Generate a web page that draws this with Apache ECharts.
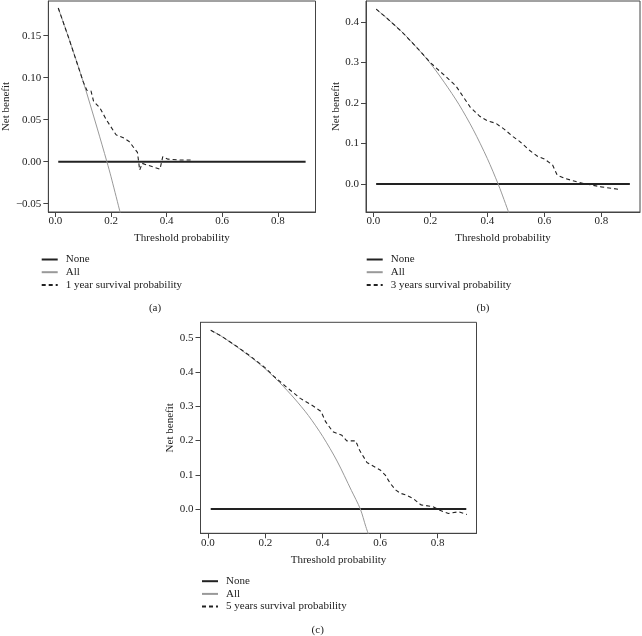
<!DOCTYPE html>
<html>
<head>
<meta charset="utf-8">
<script src="https://cdn.jsdelivr.net/npm/echarts@6/dist/echarts.min.js"></script>
<style>html,body{margin:0;padding:0;background:#fff;}#c{width:642px;height:636px;}</style>
</head>
<body>
<div id="c"></div>
<script>
// ---- data ----
const xTicks = [0, 0.2, 0.4, 0.6, 0.8];
const yTicksA = [-0.05, 0, 0.05, 0.10, 0.15];
const yTicksB = [0, 0.1, 0.2, 0.3, 0.4];
const yTicksC = [0, 0.1, 0.2, 0.3, 0.4, 0.5];

const noneLine = [[0.01, 0], [0.9, 0]];

const allA = [[0.01,0.183],[0.05,0.145],[0.10,0.095],[0.15,0.040],[0.185,0.0],[0.20,-0.018],[0.25,-0.083]];
const modelA = [[0.01,0.183],[0.05,0.145],[0.10,0.095],[0.113,0.085],[0.128,0.084],[0.137,0.072],[0.16,0.064],[0.183,0.050],[0.218,0.032],[0.247,0.028],[0.265,0.024],[0.288,0.014],[0.295,0.011],[0.303,-0.010],[0.312,-0.002],[0.376,-0.009],[0.386,0.006],[0.405,0.003],[0.45,0.002],[0.492,0.002]];

const allB = [[0.01,0.432],[0.05,0.408],[0.10,0.376],[0.15,0.339],[0.20,0.298],[0.25,0.250],[0.30,0.197],[0.35,0.135],[0.40,0.063],[0.438,0.0],[0.45,-0.022],[0.48,-0.080]];
const modelB = [[0.01,0.432],[0.05,0.408],[0.10,0.376],[0.15,0.339],[0.20,0.300],[0.22,0.287],[0.255,0.265],[0.29,0.242],[0.313,0.218],[0.34,0.190],[0.372,0.168],[0.40,0.156],[0.43,0.150],[0.46,0.135],[0.49,0.117],[0.512,0.106],[0.55,0.082],[0.577,0.068],[0.60,0.062],[0.629,0.047],[0.645,0.022],[0.676,0.013],[0.711,0.006],[0.746,0.0],[0.80,-0.007],[0.86,-0.013]];

const allC = [[0.01,0.522],[0.05,0.503],[0.10,0.474],[0.15,0.443],[0.20,0.409],[0.25,0.369],[0.30,0.324],[0.35,0.273],[0.40,0.212],[0.45,0.140],[0.50,0.054],[0.531,0.0],[0.55,-0.051],[0.57,-0.100]];
const modelC = [[0.01,0.522],[0.05,0.503],[0.10,0.475],[0.15,0.445],[0.20,0.412],[0.229,0.388],[0.275,0.355],[0.322,0.323],[0.368,0.300],[0.394,0.285],[0.41,0.255],[0.435,0.226],[0.467,0.215],[0.484,0.199],[0.515,0.199],[0.528,0.172],[0.554,0.136],[0.60,0.114],[0.618,0.099],[0.635,0.075],[0.655,0.055],[0.67,0.046],[0.693,0.040],[0.716,0.030],[0.742,0.012],[0.784,0.007],[0.806,-0.003],[0.838,-0.013],[0.873,-0.008],[0.902,-0.016]];

const modelNames = ['1 year survival probability', '3 years survival probability', '5 years survival probability'];

// ---- style ----
const FONT = 'Liberation Serif';
const TXT = '#222';
const AX = '#444';

function xAxis(gi) {
  return {
    type: 'value', gridIndex: gi, min: -0.0256, max: 0.9356,
    name: 'Threshold probability', nameLocation: 'middle', nameGap: 21,
    nameTextStyle: {fontFamily: FONT, fontSize: 11, color: TXT},
    axisLine: {show: true, onZero: false, lineStyle: {color: AX, width: 1}},
    axisTick: {show: true, length: 5, customValues: xTicks, lineStyle: {color: AX}},
    axisLabel: {customValues: xTicks, margin: 4, fontFamily: FONT, fontSize: 11, color: TXT,
      formatter: v => v.toFixed(1)},
    splitLine: {show: false}
  };
}
function yAxis(gi, min, max, ticks, dec, gap) {
  return {
    type: 'value', gridIndex: gi, min: min, max: max,
    name: 'Net benefit', nameLocation: 'middle', nameGap: gap,
    nameTextStyle: {fontFamily: FONT, fontSize: 11, color: TXT},
    axisLine: {show: true, onZero: false, lineStyle: {color: AX, width: 1}},
    axisTick: {show: true, length: 5, customValues: ticks, lineStyle: {color: AX}},
    axisLabel: {customValues: ticks, margin: 7, fontFamily: FONT, fontSize: 11, color: TXT,
      formatter: v => (v < 0 ? '\u2212' : '') + Math.abs(v).toFixed(dec)},
    splitLine: {show: false}
  };
}
function series(gi, model, all, mname) {
  return [
    {name: 'None', type: 'line', xAxisIndex: gi, yAxisIndex: gi, data: noneLine, symbol: 'none',
      color: '#222', itemStyle: {color: '#222'},
      lineStyle: {color: '#222', width: 2}, silent: true},
    {name: 'All', type: 'line', xAxisIndex: gi, yAxisIndex: gi, data: all, symbol: 'none', smooth: 0.3,
      color: '#999', itemStyle: {color: '#999'},
      lineStyle: {color: '#999', width: 1}, silent: true},
    {name: mname, type: 'line', xAxisIndex: gi, yAxisIndex: gi, data: model, symbol: 'none',
      color: '#222', itemStyle: {color: '#222'},
      lineStyle: {color: '#222', width: 1.1, type: [4, 3]}, silent: true}
  ];
}
function legend(left, top, mname) {
  return {
    orient: 'vertical', left: left, top: top, padding: 0, itemGap: 1.7,
    itemWidth: 16, itemHeight: 12, selectedMode: false,
    itemStyle: {opacity: 0},
    data: ['None', 'All', mname],
    textStyle: {fontFamily: FONT, fontSize: 11, color: TXT, padding: [0, 0, 0, 3]}
  };
}

const gridBase = {show: true, borderColor: AX, borderWidth: 1, containLabel: false};

const option = {
  animation: false,
  grid: [
    Object.assign({left: 41.5, top: 1, width: 274, height: 211}, gridBase),
    Object.assign({left: 366, top: 1, width: 274, height: 211}, gridBase),
    Object.assign({left: 200.5, top: 322.3, width: 276, height: 211}, gridBase)
  ],
  xAxis: [xAxis(0), xAxis(1), xAxis(2)],
  yAxis: [
    yAxis(0, -0.0599, 0.1913, yTicksA, 2, 29.5),
    yAxis(1, -0.0691, 0.4519, yTicksB, 1, 24.5),
    yAxis(2, -0.0709, 0.545, yTicksC, 1, 25.3)
  ],
  legend: [
    legend(40.7, 254, modelNames[0]),
    legend(365.7, 254, modelNames[1]),
    legend(201, 575.7, modelNames[2])
  ],
  series: [].concat(
    series(0, modelA, allA, modelNames[0]),
    series(1, modelB, allB, modelNames[1]),
    series(2, modelC, allC, modelNames[2])
  ),
  graphic: [
    {type: 'text', x: 155, y: 308, style: {text: '(a)', align: 'center', verticalAlign: 'middle', font: '11px "Liberation Serif"', fill: TXT}},
    {type: 'text', x: 483, y: 308, style: {text: '(b)', align: 'center', verticalAlign: 'middle', font: '11px "Liberation Serif"', fill: TXT}},
    {type: 'text', x: 317.7, y: 630.5, style: {text: '(c)', align: 'center', verticalAlign: 'middle', font: '11px "Liberation Serif"', fill: TXT}}
  ]
};

const chart = echarts.init(document.getElementById('c'), null, {renderer: 'canvas'});
chart.setOption(option);
</script>
</body>
</html>
